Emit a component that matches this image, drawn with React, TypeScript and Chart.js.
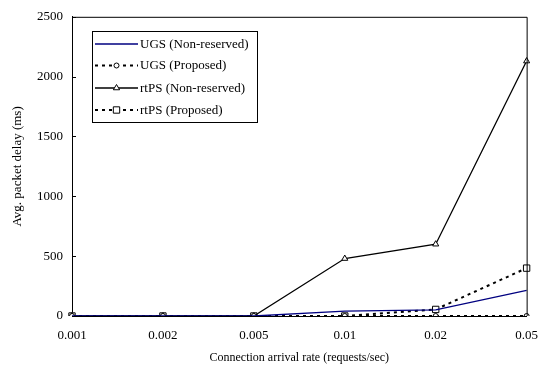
import React, { useEffect, useRef } from 'react';
import { Chart, registerables } from 'chart.js';

Chart.register(...registerables);

const categories = ['0.001', '0.002', '0.005', '0.01', '0.02', '0.05'];
const ugsNonReserved = [0, 0, 0, 40, 52, 215];
const ugsProposed = [0, 0, 0, 0, 0, 0];
const rtpsNonReserved = [0, 0, 0, 480, 600, 2130];
const rtpsProposed = [0, 0, 0, 0, 55, 400];
const seriesNames = ['UGS (Non-reserved)', 'UGS (Proposed)', 'rtPS (Non-reserved)', 'rtPS (Proposed)'];
const yMax = 2500;
const yStep = 500;

const FONT = 'Liberation Serif';

function drawMarker(ctx: CanvasRenderingContext2D, style: string, x: number, y: number, r: number) {
  ctx.beginPath();
  if (style === 'circle') {
    ctx.arc(x, y, r, 0, Math.PI * 2);
  } else if (style === 'rect') {
    const s = Math.SQRT1_2 * r;
    ctx.rect(x - s, y - s, 2 * s, 2 * s);
  } else if (style === 'triangle') {
    ctx.moveTo(x, y - r);
    ctx.lineTo(x + r * 0.9, y + r * 0.5);
    ctx.lineTo(x - r * 0.9, y + r * 0.5);
    ctx.closePath();
  }
  ctx.fill();
  ctx.stroke();
}

const framePlugin = {
  id: 'frame',
  afterDatasetsDraw(chart: any) {
    const { ctx, chartArea } = chart;
    const { left, right, top, bottom } = chartArea;
    ctx.save();
    ctx.strokeStyle = '#000';
    ctx.lineWidth = 1;
    ctx.beginPath();
    ctx.moveTo(left, top + 0.5);
    ctx.lineTo(right + 0.5, top + 0.5);
    ctx.lineTo(right + 0.5, bottom);
    ctx.stroke();
    const ys = chart.scales.y;
    ys.ticks.forEach((t: any) => {
      const py = Math.round(ys.getPixelForValue(t.value)) + 0.5;
      ctx.beginPath();
      ctx.moveTo(left, py);
      ctx.lineTo(left + 4, py);
      ctx.stroke();
    });
    ctx.restore();
  },
  afterDraw(chart: any) {
    const { ctx } = chart;
    const bx = 92, by = 31, bw = 165, bh = 91;
    ctx.save();
    ctx.fillStyle = '#fff';
    ctx.fillRect(bx, by, bw, bh);
    ctx.strokeStyle = '#000';
    ctx.lineWidth = 1;
    ctx.strokeRect(bx + 0.5, by + 0.5, bw, bh);
    const rowsY = [44, 65.5, 88, 110];
    ctx.font = `13px "${FONT}"`;
    ctx.textBaseline = 'middle';
    chart.data.datasets.forEach((ds: any, i: number) => {
      const y = rowsY[i];
      ctx.save();
      ctx.strokeStyle = ds.borderColor;
      ctx.lineWidth = ds.borderWidth;
      ctx.setLineDash(ds.borderDash || []);
      ctx.beginPath();
      ctx.moveTo(95, y);
      ctx.lineTo(138, y);
      ctx.stroke();
      ctx.restore();
      if (ds.pointRadius > 0) {
        ctx.save();
        ctx.setLineDash([]);
        ctx.fillStyle = '#fff';
        ctx.strokeStyle = '#000';
        ctx.lineWidth = 1;
        drawMarker(ctx, ds.pointStyle, 116.5, y, ds.pointRadius);
        ctx.restore();
      }
      ctx.fillStyle = '#000';
      ctx.textAlign = 'left';
      ctx.fillText(seriesNames[i], 140, y + 0.5);
    });
    ctx.restore();
  },
};

export default function App() {
  const ref = useRef<HTMLCanvasElement>(null);
  useEffect(() => {
    if (!ref.current) return;
    const chart = new Chart(ref.current, {
      type: 'line',
      data: {
        labels: categories,
        datasets: [
          {
            label: seriesNames[0],
            data: ugsNonReserved,
            borderColor: '#000080',
            borderWidth: 1.3,
            pointRadius: 0,
            tension: 0,
          },
          {
            label: seriesNames[1],
            data: ugsProposed,
            borderColor: '#000',
            borderWidth: 2,
            borderDash: [3, 4],
            pointStyle: 'circle',
            pointRadius: 2.5,
            pointBackgroundColor: '#fff',
            pointBorderColor: '#000',
            pointBorderWidth: 1,
            tension: 0,
          },
          {
            label: seriesNames[2],
            data: rtpsNonReserved,
            borderColor: '#000',
            borderWidth: 1.3,
            pointStyle: 'triangle',
            pointRadius: 3.5,
            pointBackgroundColor: '#fff',
            pointBorderColor: '#000',
            pointBorderWidth: 1,
            tension: 0,
          },
          {
            label: seriesNames[3],
            data: rtpsProposed,
            borderColor: '#000',
            borderWidth: 2,
            borderDash: [3, 4],
            pointStyle: 'rect',
            pointRadius: 4.5,
            pointBackgroundColor: '#fff',
            pointBorderColor: '#000',
            pointBorderWidth: 1,
            tension: 0,
          },
        ],
      },
      options: {
        responsive: false,
        animation: false,
        layout: { padding: { left: 0, top: 14, right: 22, bottom: 0 } },
        plugins: {
          legend: { display: false },
          tooltip: { enabled: false },
        },
        scales: {
          x: {
            type: 'category',
            offset: false,
            grid: { display: false, drawTicks: false },
            border: { display: true, color: '#000', width: 1 },
            ticks: {
              color: '#000',
              font: { family: FONT, size: 13 },
              padding: 12,
              maxRotation: 0,
              autoSkip: false,
            },
            title: {
              display: true,
              text: 'Connection arrival rate (requests/sec)',
              color: '#000',
              font: { family: FONT, size: 12 },
              padding: { top: 0, bottom: 5 },
            },
            afterFit(s: any) {
              s.height = 54;
            },
          },
          y: {
            min: 0,
            max: yMax,
            grid: { display: false, drawTicks: false },
            border: { display: true, color: '#000', width: 1 },
            ticks: {
              stepSize: yStep,
              color: '#000',
              font: { family: FONT, size: 13 },
              padding: 9,
              callback: (v: any) => String(v),
            },
            title: {
              display: true,
              text: 'Avg. packet delay (ms)',
              color: '#000',
              font: { family: FONT, size: 13 },
              padding: { top: 10, bottom: 0 },
            },
            afterFit(s: any) {
              s.width = 72;
            },
          },
        },
      },
      plugins: [framePlugin],
    });
    return () => chart.destroy();
  }, []);
  return (
    <div style={{ position: 'fixed', left: 0, top: 0, width: 550, height: 370, background: '#fff' }}>
      <canvas ref={ref} width={550} height={370} style={{ display: 'block' }} />
    </div>
  );
}
